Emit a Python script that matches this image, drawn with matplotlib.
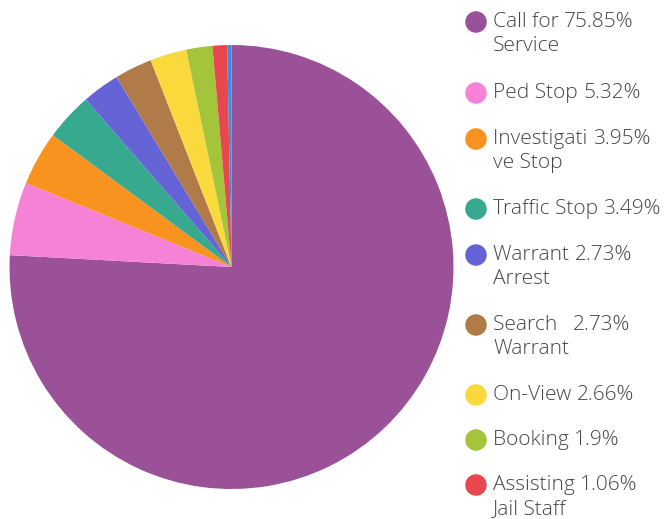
import matplotlib
matplotlib.use("Agg")
import matplotlib.pyplot as plt

# slice data (clockwise from 12 o'clock)
categories = ["Call for Service", "Ped Stop", "Investigative Stop", "Traffic Stop",
              "Warrant Arrest", "Search Warrant", "On-View", "Booking",
              "Assisting Jail Staff", "Other"]
values = [75.85, 5.32, 3.95, 3.49, 2.73, 2.73, 2.66, 1.9, 1.06, 0.31]
colors = ["#9B5198", "#F582D6", "#F7931E", "#36A98F", "#6464D6",
          "#B07B48", "#FAD93C", "#A3C43B", "#E8474F", "#3A8EE0"]

# legend rows as shown (wrapped label parts)
legend_first = ["Call for", "Ped Stop", "Investigati", "Traffic Stop", "Warrant",
                "Search  ", "On-View", "Booking", "Assisting"]
legend_second = ["Service", "", "ve Stop", "", "Arrest", "Warrant", "", "", "Jail Staff"]
legend_pct = ["75.85%", "5.32%", "3.95%", "3.49%", "2.73%", "2.73%", "2.66%", "1.9%", "1.06%"]
legend_y = [22, 93, 139, 209, 255, 325, 395, 440, 485]

W, H = 672, 519
fig = plt.figure(figsize=(W / 100, H / 100), dpi=100)
fig.patch.set_facecolor("white")

# pie axes: center (231.5, 267), radius 222 px
cx, cy, r = 231.5, 267, 222
ax = fig.add_axes([(cx - r) / W, 1 - (cy + r) / H, 2 * r / W, 2 * r / H])
ax.pie(values, colors=colors, startangle=90, counterclock=False,
       wedgeprops=dict(linewidth=0), radius=1)
ax.set_xlim(-1, 1)
ax.set_ylim(-1, 1)
ax.set_aspect("equal")

# legend axes in pixel coords
lax = fig.add_axes([0, 0, 1, 1], facecolor="none")
lax.set_xlim(0, W)
lax.set_ylim(H, 0)
lax.axis("off")

font = dict(family="Open Sans", fontsize=15, fontweight="light", color="#454545")
for i in range(len(legend_first)):
    y = legend_y[i]
    lax.scatter([476], [y], s=240, color=colors[i], edgecolor="none")
    t = lax.text(493, y, legend_first[i] + " ", va="center", ha="left", **font)
    fig.canvas.draw()
    bb = t.get_window_extent()
    lax.text(bb.x1, y, legend_pct[i], va="center", ha="left", **font)
    if legend_second[i]:
        lax.text(493, y + 24, legend_second[i], va="center", ha="left", **font)

fig.savefig("out.png", dpi=100)
